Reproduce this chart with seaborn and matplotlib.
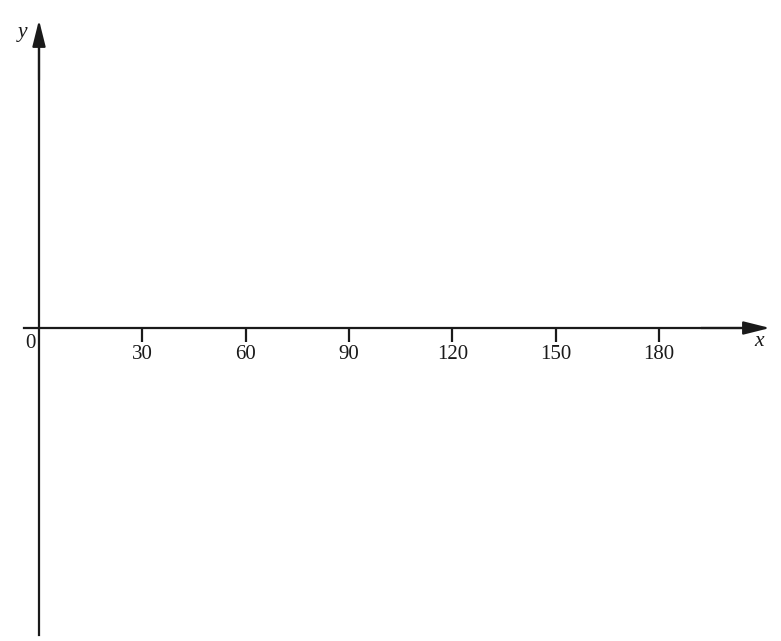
import matplotlib.pyplot as plt
import seaborn as sns

# Chart values
x_ticks = [30, 60, 90, 120, 150, 180]
x_tick_labels = ["30", "60", "90", "120", "150", "180"]
origin_label = "0"
x_name = "x"
y_name = "y"

# Axis extents (x in degrees, y in plot pixels above/below the x-axis)
x_axis_ends = [-4.35, 212.2]
y_axis_ends = [-307, 308]

sns.set_theme(style="white")
plt.rcParams["font.family"] = ["Liberation Serif", "DejaVu Serif"]

fig = plt.figure(figsize=(7.81, 6.41), dpi=100)
ax = fig.add_axes([0, 0, 1, 1])
ax.set_xlim(-11.32, 215.4)
ax.set_ylim(-313, 328)

for side in ["top", "right"]:
    ax.spines[side].set_visible(False)
ax.spines["bottom"].set_position(("data", 0))
ax.spines["left"].set_position(("data", 0))
ax.spines["bottom"].set_bounds(x_axis_ends[0], x_axis_ends[1] - 3)
ax.spines["left"].set_bounds(y_axis_ends[0], y_axis_ends[1] - 8)
for side in ["bottom", "left"]:
    ax.spines[side].set_color("#1a1a1a")
    ax.spines[side].set_linewidth(1.6)

ax.set_xticks(x_ticks, x_tick_labels)
ax.set_yticks([])
ax.tick_params(axis="x", direction="out", length=10, width=1.6, color="#1a1a1a",
               pad=2.5, labelsize=15, labelcolor="#1a1a1a", bottom=True)

# arrow heads
arrow_kw = dict(arrowstyle="-|>,head_length=0.8,head_width=0.2", mutation_scale=20,
                color="#1a1a1a", lw=1.6, shrinkA=0, shrinkB=0)
ax.annotate("", xy=(x_axis_ends[1], 0), xytext=(x_axis_ends[1] - 20, 0), arrowprops=arrow_kw)
ax.annotate("", xy=(0, y_axis_ends[1]), xytext=(0, y_axis_ends[1] - 60), arrowprops=arrow_kw)

ax.text(-2.6, -15, origin_label, fontsize=15, ha="center", va="center", color="#1a1a1a")
ax.text(209, -13, x_name, fontsize=15.5, style="italic", ha="center", va="center", color="#1a1a1a")
ax.text(-4.9, 296, y_name, fontsize=15.5, style="italic", ha="center", va="center", color="#1a1a1a")

fig.savefig("out.png", dpi=100)
